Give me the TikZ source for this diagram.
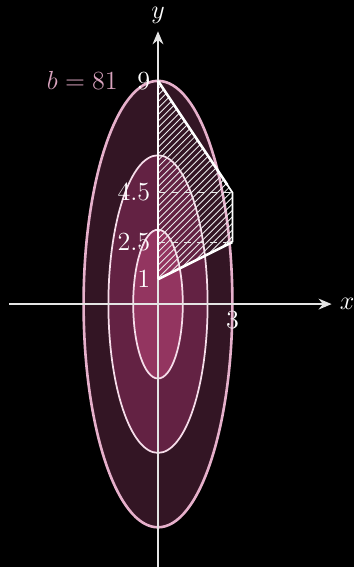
\documentclass[tikz,border=0pt]{standalone}
\usetikzlibrary{arrows.meta,patterns}
\definecolor{bgc}{HTML}{000000}
\definecolor{outerfill}{HTML}{331524}
\definecolor{midfill}{HTML}{632243}
\definecolor{innerfill}{HTML}{933560}
\definecolor{outerline}{HTML}{E6B0CB}
\definecolor{innerline}{HTML}{F6DDEA}
\definecolor{axisc}{HTML}{E4E4E4}
\definecolor{labpink}{HTML}{D9A3BE}
\begin{document}
\begin{tikzpicture}[x=0.4cm,y=0.4cm,
  axis/.style={axisc,line width=0.8pt,-{Stealth[length=6pt,width=5pt,inset=2pt]}},
  lvl/.style={line width=0.8pt,draw=innerline},
  lab/.style={text=white,font=\large},
  edge/.style={white,line width=1.2pt},
  guide/.style={white!80!gray,dashed,line width=0.5pt}]
\fill[bgc] (-6.37,-10.60) rectangle (7.90,12.26);
\useasboundingbox (-6.37,-10.60) rectangle (7.90,12.26);
% level sets
\filldraw[fill=outerfill,draw=outerline,line width=1.2pt] (0,0) ellipse [x radius=3,y radius=9];
\filldraw[fill=midfill,lvl] (0,0) ellipse [x radius=2,y radius=6];
\filldraw[fill=innerfill,lvl] (0,0) ellipse [x radius=1,y radius=3];
% axes
\coordinate (xs) at (-6,0);
\coordinate (xe) at (7,0);
\coordinate (ys) at (0,-10.6);
\coordinate (ye) at (0,11);
\draw[axis] (xs) -- (xe) node[right,lab] (xl) {$x$};
\draw[axis] (ys) -- (ye) node[above,lab] (yl) {$y$};
% region
\coordinate (p1) at (0,9);
\coordinate (p2) at (2.8,4.8);
\coordinate (p3) at (3,4.5);
\coordinate (p4) at (3,2.5);
\coordinate (p5) at (0,1);
\fill[pattern=north east lines,pattern color=white!85!gray] (p1) -- (p2) -- (p3) -- (p4) -- (p5) -- cycle;
\draw[edge] (p1) -- (p2);
\draw[white,line width=0.8pt] (p2) -- (p3) -- (p4);
\draw[edge] (p4) -- (p5);
\draw[white,line width=0.8pt] (p5) -- (p1);
% guides
\coordinate (g45) at (0,4.5);
\coordinate (g25) at (0,2.5);
\draw[guide] (g45) -- (p3);
\draw[guide] (g25) -- (p4);
% labels
\node[left,lab] (l9) at (p1) {$9$};
\node[left,lab] (l45) at (g45) {$4.5$};
\node[left,lab] (l25) at (g25) {$2.5$};
\node[left,lab] (l1) at (p5) {$1$};
\node[below,lab] (l3) at (3,0) {$3$};
\node[text=labpink,font=\large] (lb) at (-3.05,9) {$b=81$};
\end{tikzpicture}
\end{document}
